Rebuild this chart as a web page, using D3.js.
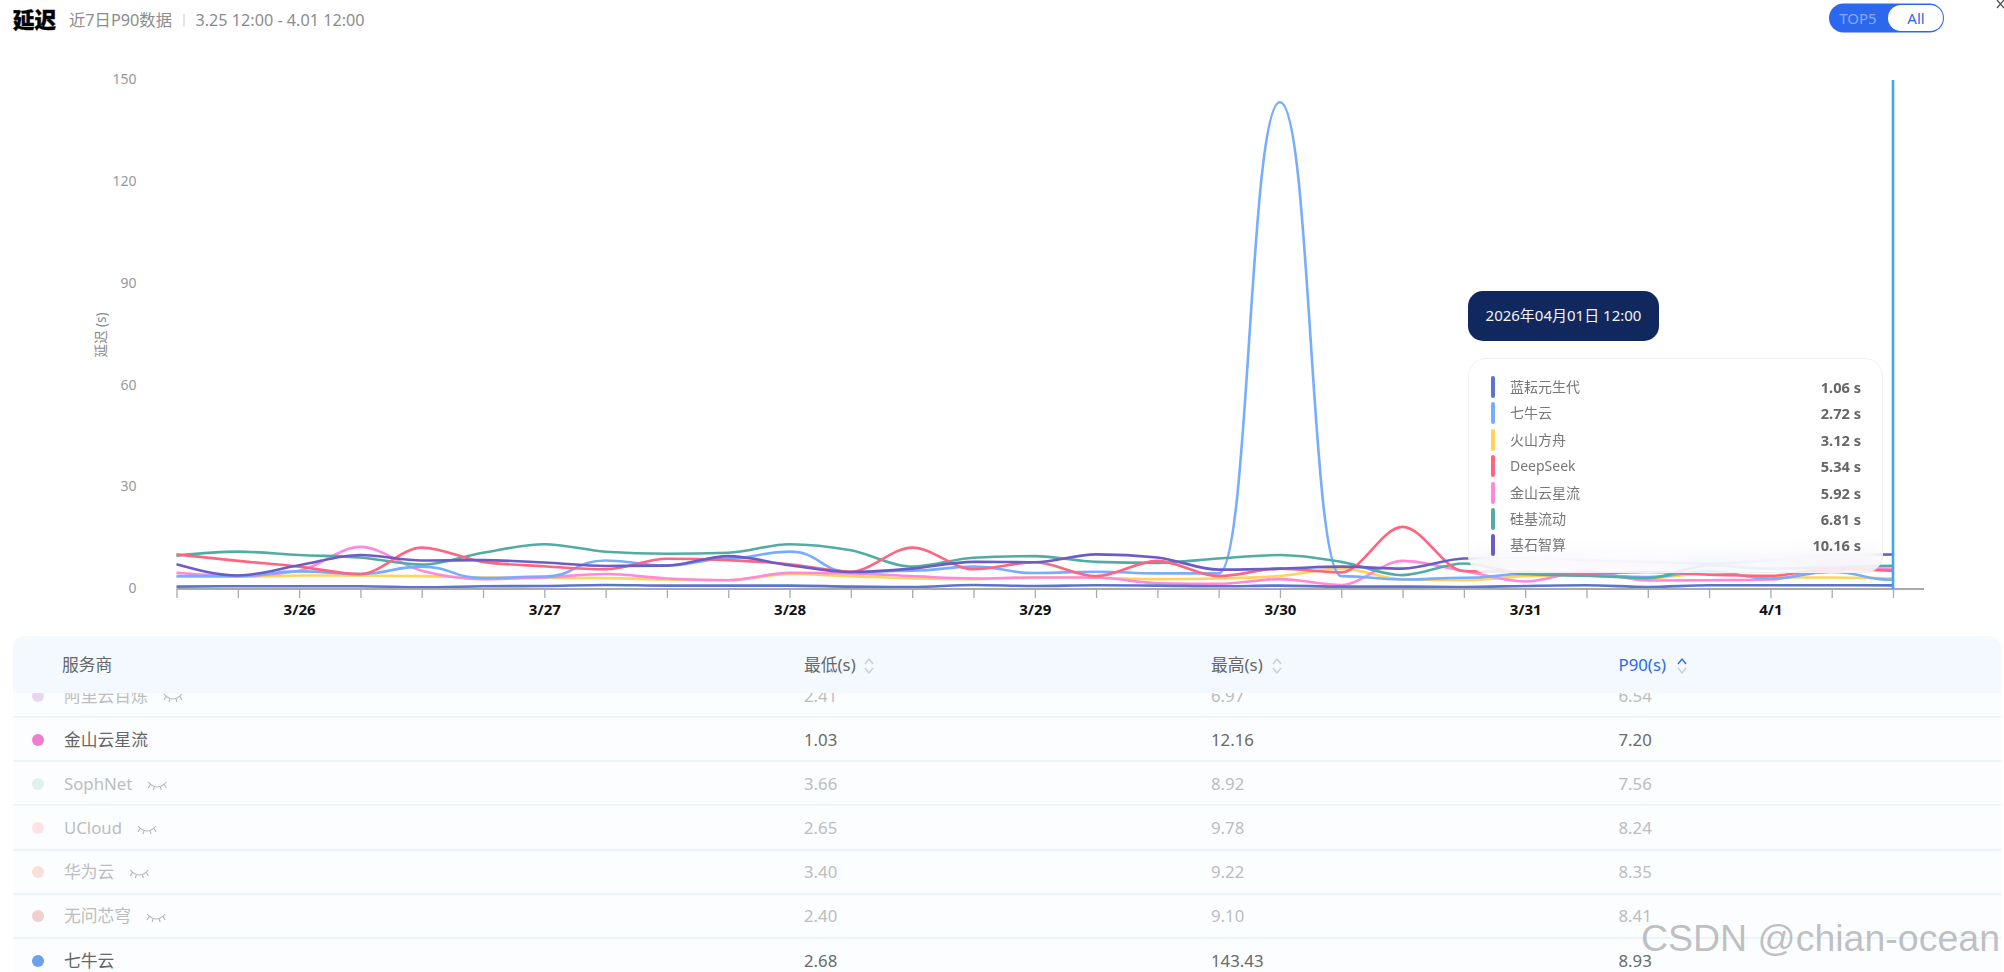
<!DOCTYPE html>
<html>
<head>
<meta charset="utf-8">
<script src="https://cdn.jsdelivr.net/npm/d3@7/dist/d3.min.js"></script>
<style>
  html, body { margin: 0; padding: 0; background: #fff; overflow: hidden; }
  body { width: 2004px; height: 972px; position: relative; font-family: "Noto Sans", "Noto Sans CJK SC", sans-serif; }
  svg { position: absolute; left: 0; top: 0; }
  .tip-date { position: absolute; left: 1468px; top: 291px; width: 191px; height: 50px; line-height: 49px; text-align: center;
    background: #10285e; border-radius: 15px; color: #f2f4f8; font-size: 15px; }
  .tip-box { position: absolute; left: 1468px; top: 358px; width: 415px; height: 215px; box-sizing: border-box;
    border: 1px solid #eef0f3; border-radius: 18px; background: rgba(255,255,255,.74); backdrop-filter: blur(10px); }
  .tip-row { position: absolute; left: 0; right: 0; height: 26px; line-height: 26px; font-size: 14px; color: #777; }
  .tip-bar { position: absolute; left: 22px; top: 2px; width: 4px; height: 22px; border-radius: 2px; }
  .tip-name { position: absolute; left: 41px; }
  .tip-val { position: absolute; right: 21px; font-weight: 700; font-size: 14.6px; color: #666; }
</style>
</head>
<body>
<script>
// provider names and colours
const names = ["蓝耘元生代", "七牛云", "火山方舟", "DeepSeek", "金山云星流", "硅基流动", "基石智算"];
const colors = ["#5a74d0", "#78acff", "#ffd35c", "#ff6480", "#ff88dc", "#52aca4", "#6b5cc6"];
const tipValues = [1.06, 2.72, 3.12, 5.34, 5.92, 6.81, 10.16];

// P90 values every 6 hours, 3.25 12:00 -> 4.01 12:00
const lanyun = [0.7,0.8,0.8,0.8,0.5,0.8,0.9,1.2,1.0,1.0,1.0,0.7,0.6,1.2,0.9,1.1,1.0,0.8,1.0,0.7,0.7,0.6,0.9,1.1,0.6,1.1,1.1,1.1,1.06];
const qiniu = [3.8,3.8,5.2,4.4,6.6,3.2,3.7,8.4,6.9,9.0,11.0,5.0,5.4,6.6,4.7,5.1,4.6,4.6,143.43,3.8,2.8,3.3,4.4,4.1,3.5,5.2,3.1,5.0,2.72];
const huoshan = [3.8,3.6,4.0,4.0,3.8,3.4,3.3,3.2,2.8,2.6,4.4,3.8,3.1,2.9,3.4,3.3,2.9,3.1,3.8,6.0,2.8,2.6,3.8,4.1,3.2,4.7,3.4,3.4,3.12];
const deepseek = [10.2,8.3,6.6,4.4,12.2,8.0,6.7,5.8,8.9,8.5,7.3,5.1,12.2,5.8,7.9,3.8,8.3,3.8,6.0,4.9,18.3,5.3,5.0,4.6,5.0,4.2,3.9,6.0,5.34];
const jinshan = [4.8,3.8,5.4,12.4,5.4,2.9,3.4,4.4,3.1,2.6,4.8,4.6,3.8,3.1,3.4,3.4,1.7,1.5,2.9,1.2,8.3,5.3,2.2,5.2,2.5,2.6,2.8,5.8,5.92];
const guiji = [9.8,11.0,10.0,9.3,7.2,10.7,13.2,11.0,10.4,10.7,13.2,11.4,6.6,9.2,9.7,8.0,7.7,9.0,10.0,8.0,4.1,7.5,4.4,3.9,3.2,7.0,6.0,6.5,6.81];
const jishi = [7.3,4.0,7.0,10.0,8.4,8.5,7.8,6.8,6.9,9.7,7.0,5.0,6.0,8.0,7.9,10.2,9.3,5.7,6.0,6.6,6.0,9.0,9.2,8.5,8.0,7.5,8.5,10.0,10.16];
const seriesValues = [lanyun, qiniu, huoshan, deepseek, jinshan, guiji, jishi];

const yTicks = [0, 30, 60, 90, 120, 150];

// table rows
const rowNames = ["阿里云百炼", "金山云星流", "SophNet", "UCloud", "华为云", "无问芯穹", "七牛云"];
const rowDots = ["#e6d6ef", "#ee7dd2", "#e2f0eb", "#fde3e6", "#f5e0dc", "#f0cfd0", "#6c9fee"];
const rowMin = ["2.41", "1.03", "3.66", "2.65", "3.40", "2.40", "2.68"];
const rowMax = ["6.97", "12.16", "8.92", "9.78", "9.22", "9.10", "143.43"];
const rowP90 = ["6.54", "7.20", "7.56", "8.24", "8.35", "8.41", "8.93"];
const rowActive = [false, true, false, false, false, false, true];
const rowY = [696, 740, 784, 828, 872, 916, 961];
const rowLines = [717, 761, 805, 850, 894, 938];

const W = 2004, H = 972;
const svg = d3.select("body").append("svg").attr("width", W).attr("height", H);

/* chart */
const start = new Date(2026, 2, 25, 12), end = new Date(2026, 3, 1, 12);
const times = d3.timeHour.range(start, d3.timeHour.offset(end, 1), 6);
const x = d3.scaleTime().domain([start, end]).range([176.5, 1893]);
const y = d3.scaleLinear().domain([0, 150]).range([589, 80]);

const yAxis = svg.append("g")
  .attr("transform", "translate(176.5,0)")
  .call(d3.axisLeft(y).tickValues(yTicks).tickSize(0).tickPadding(40));
yAxis.select(".domain").remove();
yAxis.selectAll("text").attr("font-size", 14).attr("fill", "#999").attr("font-family", "Noto Sans").attr("dy", "0.26em");

svg.append("text")
  .attr("transform", "translate(106,335) rotate(-90)")
  .attr("text-anchor", "middle")
  .attr("font-size", 13.5).attr("fill", "#888")
  .text("延迟 (s)");

const line = d3.line().x((d, i) => x(times[i])).y(d => y(d)).curve(d3.curveMonotoneX);
// the spike has a flat foot and a narrow body, the bump curve gets closer to that
const spikeLine = d3.line().x((d, i) => x(times[i])).y(d => y(d)).curve(d3.curveBumpX);
const drawOrder = [2, 4, 1, 5, 3, 6, 0];
svg.append("g").selectAll("path")
  .data(drawOrder)
  .join("path")
  .attr("d", k => k === 1 ? spikeLine(seriesValues[k]) : line(seriesValues[k]))
  .attr("fill", "none")
  .attr("stroke", k => colors[k])
  .attr("stroke-width", 2.6);

const xAxis = svg.append("g")
  .attr("transform", "translate(0,589)")
  .call(d3.axisBottom(x).tickValues(times).tickSize(9).tickPadding(6)
    .tickFormat(t => t.getHours() === 0 ? `${t.getMonth() + 1}/${t.getDate()}` : ""));
xAxis.select(".domain").remove();
xAxis.selectAll("line").attr("stroke", "#aaa").attr("stroke-width", 1.3);
xAxis.selectAll("text").attr("font-size", 15).attr("font-weight", 700).attr("fill", "#111").attr("font-family", "Noto Sans");
svg.append("line").attr("x1", 176.5).attr("x2", 1924).attr("y1", 589).attr("y2", 589)
  .attr("stroke", "#aaa").attr("stroke-width", 2);

// hover cursor at the last point
svg.append("line").attr("x1", x(end)).attr("x2", x(end)).attr("y1", 80).attr("y2", 589)
  .attr("stroke", "#3fa3ff").attr("stroke-width", 2.6);

/* title bar */
svg.append("text").attr("x", 13).attr("y", 28).attr("font-size", 21.5).attr("font-weight", 900)
  .attr("fill", "#000").attr("stroke", "#000").attr("stroke-width", .4).text("延迟");
svg.append("text").attr("x", 69).attr("y", 26).attr("font-size", 16.3).attr("fill", "#8c8c8c").text("近7日P90数据");
svg.append("line").attr("x1", 184).attr("x2", 184).attr("y1", 14).attr("y2", 27).attr("stroke", "#d8d8d8").attr("stroke-width", 1.3);
svg.append("text").attr("x", 195.5).attr("y", 26).attr("font-size", 16.2).attr("fill", "#8c8c8c").text("3.25 12:00 - 4.01 12:00");

// TOP5 / All switch
svg.append("rect").attr("x", 1829).attr("y", 3.5).attr("width", 115).attr("height", 29).attr("rx", 14.5).attr("fill", "#2b68ee");
svg.append("rect").attr("x", 1888).attr("y", 5).attr("width", 55).attr("height", 26).attr("rx", 13).attr("fill", "#fff");
svg.append("text").attr("x", 1858).attr("y", 24).attr("text-anchor", "middle").attr("font-size", 15).attr("fill", "#86a8f4").text("TOP5");
svg.append("text").attr("x", 1916).attr("y", 24).attr("text-anchor", "middle").attr("font-size", 15).attr("fill", "#2b68ee").text("All");
svg.append("path").attr("d", "M1997,0L2004,8M2004,0L1997,8").attr("stroke", "#555").attr("stroke-width", 1.4).attr("fill", "none");

/* table */
svg.append("rect").attr("x", 13).attr("y", 680).attr("width", 1988).attr("height", 292).attr("fill", "#fbfdff");
svg.append("g").selectAll("line").data(rowLines).join("line")
  .attr("x1", 13).attr("x2", 2001).attr("y1", d => d).attr("y2", d => d)
  .attr("stroke", "#e4f1fc").attr("stroke-width", 1.3);

const rows = svg.append("g").selectAll("g").data(rowNames).join("g")
  .attr("transform", (d, i) => `translate(0,${rowY[i]})`)
  .attr("font-size", 16.8);
rows.append("circle").attr("cx", 38).attr("r", 6).attr("fill", (d, i) => rowDots[i]);
const nameText = rows.append("text").attr("x", 64).attr("y", 6)
  .attr("fill", (d, i) => rowActive[i] ? "#666" : "#bdbdbd").text(d => d);
rows.append("text").attr("x", 804).attr("y", 6).attr("fill", (d, i) => rowActive[i] ? "#6a6a6a" : "#bdbdbd").text((d, i) => rowMin[i]);
rows.append("text").attr("x", 1211).attr("y", 6).attr("fill", (d, i) => rowActive[i] ? "#6a6a6a" : "#bdbdbd").text((d, i) => rowMax[i]);
rows.append("text").attr("x", 1618.5).attr("y", 6).attr("fill", (d, i) => rowActive[i] ? "#6a6a6a" : "#bdbdbd").text((d, i) => rowP90[i]);

// closed-eye icon after the hidden providers
rows.filter((d, i) => !rowActive[i]).append("path")
  .attr("transform", function () {
    const t = this.parentNode.querySelector("text");
    return `translate(${64 + t.getComputedTextLength() + 16},3)`;
  })
  .attr("d", "M0,-5Q9,5 18,-5M2,-2.5L0,1M6,0L5,3M12,0L13,3M16,-2.5L18,1")
  .attr("fill", "none").attr("stroke", "#b5b5b5").attr("stroke-width", 1.1);

// header sits on top of the scrolled rows
svg.append("path")
  .attr("d", "M13,693V648a12,12 0 0 1 12,-12H1989a12,12 0 0 1 12,12V693Z")
  .attr("fill", "#f3f9ff");
svg.append("text").attr("x", 62).attr("y", 671).attr("font-size", 16.8).attr("fill", "#666").text("服务商");
svg.append("text").attr("x", 804).attr("y", 671).attr("font-size", 16.8).attr("fill", "#666").text("最低(s)");
svg.append("text").attr("x", 1211).attr("y", 671).attr("font-size", 16.8).attr("fill", "#666").text("最高(s)");
svg.append("text").attr("x", 1618.5).attr("y", 671).attr("font-size", 16.8).attr("fill", "#2b68ee").text("P90(s)");

[[869, "#ccc"], [1277, "#ccc"], [1682, "#2b68ee"]].forEach(([cx, up]) => {
  svg.append("path").attr("d", `M${cx - 4},664L${cx},659L${cx + 4},664`).attr("fill", "none").attr("stroke", up).attr("stroke-width", 1.4);
  svg.append("path").attr("d", `M${cx - 4},668L${cx},673L${cx + 4},668`).attr("fill", "none").attr("stroke", "#ccc").attr("stroke-width", 1.4);
});

// watermark
svg.append("text").attr("x", 2000).attr("y", 951).attr("text-anchor", "end")
  .attr("font-family", "Liberation Sans").attr("font-size", 37.5)
  .attr("fill", "rgba(140,140,140,.55)").attr("stroke", "rgba(255,255,255,.6)").attr("stroke-width", 1.2)
  .attr("paint-order", "stroke").text("CSDN @chian-ocean");

/* tooltip */
d3.select("body").append("div").attr("class", "tip-date").text("2026年04月01日 12:00");
const tipBox = d3.select("body").append("div").attr("class", "tip-box");
const tipRows = tipBox.selectAll(".tip-row").data(names).join("div").attr("class", "tip-row")
  .style("top", (d, i) => `${15 + i * 26.4}px`);
tipRows.append("span").attr("class", "tip-bar").style("background", (d, i) => colors[i]);
tipRows.append("span").attr("class", "tip-name").text(d => d);
tipRows.append("span").attr("class", "tip-val").text((d, i) => `${tipValues[i].toFixed(2)} s`);
</script>
</body>
</html>
